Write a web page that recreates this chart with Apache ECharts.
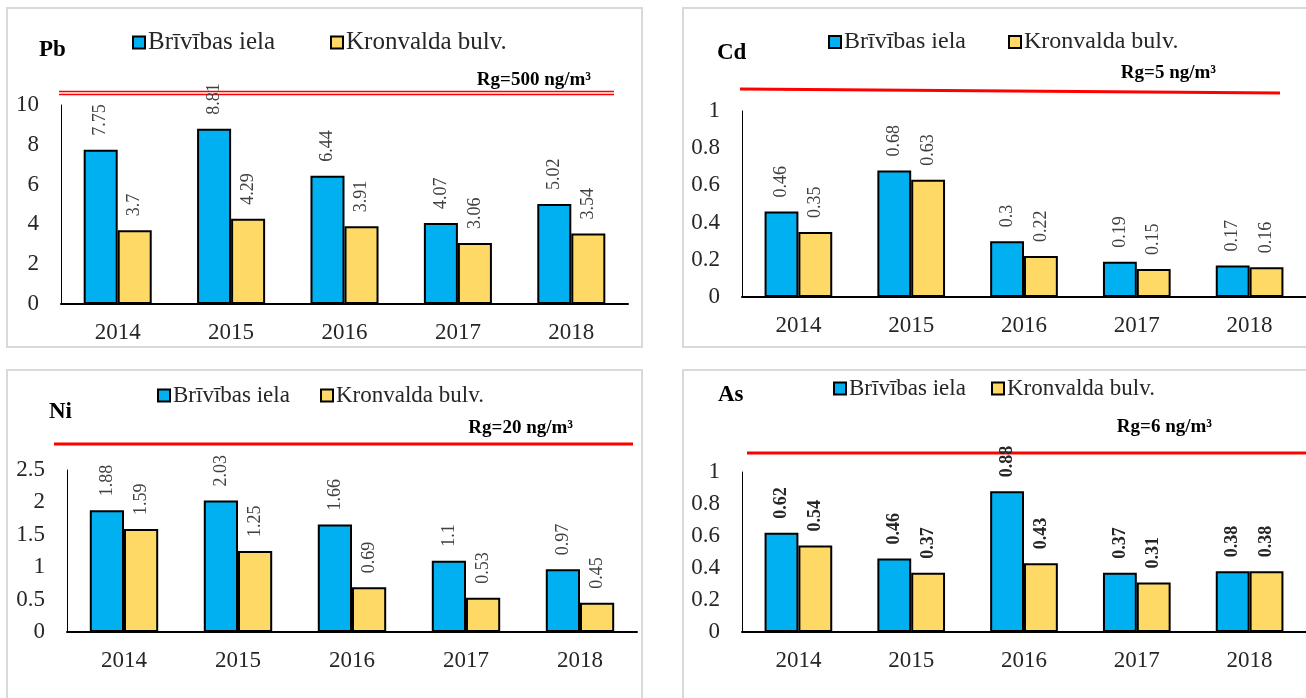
<!DOCTYPE html>
<html>
<head>
  <meta charset="utf-8">
</head>
<body style="margin: 0; background: #fff">
  <div id="container" style="width: 1306px; height: 698px"></div>
  <script src="https://cdn.jsdelivr.net/npm/echarts@6/dist/echarts.min.js"></script>
  <script>
var years = ['2014', '2015', '2016', '2017', '2018'];
var seriesNames = ['Brīvības iela', 'Kronvalda bulv.'];

// Pb
var pbBriv = [7.75, 8.81, 6.44, 4.07, 5.02];
var pbKron = [3.7, 4.29, 3.91, 3.06, 3.54];
// Cd
var cdBriv = [0.46, 0.68, 0.3, 0.19, 0.17];
var cdKron = [0.35, 0.63, 0.22, 0.15, 0.16];
// Ni
var niBriv = [1.88, 2.03, 1.66, 1.1, 0.97];
var niKron = [1.59, 1.25, 0.69, 0.53, 0.45];
// As
var asBriv = [0.62, 0.46, 0.88, 0.37, 0.38];
var asKron = [0.54, 0.37, 0.43, 0.31, 0.38];

var FONT = '"Liberation Serif", "Times New Roman", serif';
var BLUE = '#00B0F0';
var YELLOW = '#FFD966';

var dom = document.getElementById('container');
var myChart = echarts.init(dom, null, { renderer: 'canvas' });

// panels: grid box, axis range, Rg note, title and legend spots
var panels = [
  { name: 'Pb', briv: pbBriv, kron: pbKron, max: 10, interval: 2,
    grid: { left: 61, top: 105, width: 567, height: 199 },
    title: [39, 50], rg: 'Rg=500 ng/m³', rgPos: [591, 80],
    leg: [[132, 43], [330, 43]], legSize: 25, bold: false },
  { name: 'Cd', briv: cdBriv, kron: cdKron, max: 1, interval: 0.2,
    grid: { left: 742, top: 111, width: 565, height: 186 },
    title: [717, 53], rg: 'Rg=5 ng/m³', rgPos: [1216, 73],
    leg: [[828, 43], [1008, 43]], legSize: 24, bold: false },
  { name: 'Ni', briv: niBriv, kron: niKron, max: 2.5, interval: 0.5,
    grid: { left: 67, top: 470, width: 570, height: 162 },
    title: [49, 412], rg: 'Rg=20 ng/m³', rgPos: [573, 428],
    leg: [[157, 397], [320, 397]], legSize: 23, bold: false },
  { name: 'As', briv: asBriv, kron: asKron, max: 1, interval: 0.2,
    grid: { left: 742, top: 472, width: 565, height: 160 },
    title: [718, 395], rg: 'Rg=6 ng/m³', rgPos: [1212, 427],
    leg: [[833, 390], [991, 390]], legSize: 23, bold: true }
];

var grids = [], xAxes = [], yAxes = [], series = [], legends = [], graphics = [];

// panel frames
[[7, 8, 635, 339], [683, 8, 640, 339], [7, 370, 635, 340], [683, 370, 640, 340]].forEach(function (r) {
  graphics.push({ type: 'rect', shape: { x: r[0], y: r[1], width: r[2], height: r[3] },
    style: { fill: 'none', stroke: '#d9d9d9', lineWidth: 2 }, z: 0 });
});

// Rg limit lines
graphics.push({ type: 'line', shape: { x1: 59, y1: 91.5, x2: 614, y2: 91.5 }, style: { stroke: '#ff0000', lineWidth: 1.3 } });
graphics.push({ type: 'line', shape: { x1: 59, y1: 94.5, x2: 614, y2: 94.5 }, style: { stroke: '#ff0000', lineWidth: 1.3 } });
graphics.push({ type: 'line', shape: { x1: 740, y1: 89, x2: 1280, y2: 93 }, style: { stroke: '#ff0000', lineWidth: 3 } });
graphics.push({ type: 'line', shape: { x1: 54, y1: 444, x2: 633, y2: 444 }, style: { stroke: '#ff0000', lineWidth: 3 } });
graphics.push({ type: 'line', shape: { x1: 747, y1: 453, x2: 1306, y2: 453 }, style: { stroke: '#ff0000', lineWidth: 3 } });

panels.forEach(function (p, i) {
  grids.push(p.grid);
  xAxes.push({
    type: 'category', gridIndex: i, data: years,
    axisLine: { lineStyle: { color: '#000', width: 2 } },
    axisTick: { show: false },
    axisLabel: { color: '#262626', fontFamily: FONT, fontSize: 23, margin: 17 }
  });
  yAxes.push({
    type: 'value', gridIndex: i, min: 0, max: p.max, interval: p.interval,
    axisLine: { show: true, lineStyle: { color: '#000', width: 1 } },
    axisTick: { show: false },
    splitLine: { show: false },
    axisLabel: { color: '#262626', fontFamily: FONT, fontSize: 23, margin: 22 }
  });
  var label = {
    show: true, position: 'top', rotate: 90, align: 'left', verticalAlign: 'middle',
    distance: 14, fontFamily: FONT, fontSize: 18,
    fontWeight: p.bold ? 'bold' : 'normal',
    color: p.bold ? '#262626' : '#404040'
  };
  [[p.briv, BLUE], [p.kron, YELLOW]].forEach(function (s, k) {
    series.push({
      name: seriesNames[k], type: 'bar', xAxisIndex: i, yAxisIndex: i,
      data: s[0], barGap: '0%', barCategoryGap: '40%',
      itemStyle: { color: s[1], borderColor: '#000', borderWidth: 2 },
      label: label
    });
    legends.push({
      data: [seriesNames[k]], left: p.leg[k][0], top: p.leg[k][1] - 13, padding: 0,
      icon: 'rect', itemWidth: 12, itemHeight: 12,
      itemStyle: { borderColor: '#000', borderWidth: 2 },
      textStyle: { fontFamily: FONT, fontSize: p.legSize, color: '#262626', padding: [0, 0, 0, -2] },
      selectedMode: false
    });
  });
  graphics.push({ type: 'text', x: p.title[0], y: p.title[1], z: 10,
    style: { text: p.name, font: 'bold 23px ' + FONT, fill: '#000', verticalAlign: 'middle' } });
  graphics.push({ type: 'text', x: p.rgPos[0], y: p.rgPos[1], z: 10,
    style: { text: p.rg, font: 'bold 19px ' + FONT, fill: '#000', align: 'right', verticalAlign: 'middle' } });
});

var option = {
  animation: false,
  backgroundColor: '#fff',
  grid: grids,
  xAxis: xAxes,
  yAxis: yAxes,
  legend: legends,
  series: series,
  graphic: graphics
};

myChart.setOption(option);
window.addEventListener('resize', myChart.resize);
  </script>
</body>
</html>
